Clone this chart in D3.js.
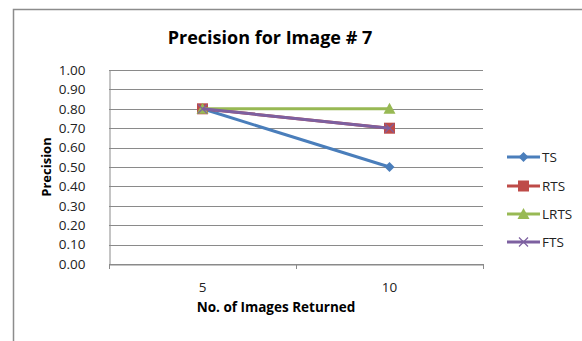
<!DOCTYPE html>
<html><head><meta charset="utf-8">
<script src="https://cdn.jsdelivr.net/npm/d3@7"></script>
<style>body{margin:0;background:#fff}svg{display:block;font-family:"Open Sans",sans-serif}</style>
</head><body>
<script>
const categories = ["5", "10"];
const yTicks = [0, 0.1, 0.2, 0.3, 0.4, 0.5, 0.6, 0.7, 0.8, 0.9, 1.0];
const seriesNames = ["TS", "RTS", "LRTS", "FTS"];
const TS = [0.8, 0.5];
const RTS = [0.8, 0.7];
const LRTS = [0.8, 0.8];
const FTS = [0.8, 0.7];
const seriesValues = [TS, RTS, LRTS, FTS];
const colors = ["#4A7EBB", "#BE4B48", "#98B954", "#7D60A0"];

const W = 582, H = 341;
const svg = d3.select("body").append("svg").attr("width", W).attr("height", H);
svg.append("rect").attr("x", 13.5).attr("y", 9.5).attr("width", 700).attr("height", 400)
  .attr("fill", "#fff").attr("stroke", "#8c8c8c").attr("stroke-width", 1.5);

const L = 109, R = 483, T = 70, B = 264;
const x = d3.scaleBand().domain(categories).range([L, R]);
const y = d3.scaleLinear().domain([0, 1]).range([B, T]);

// marker shapes
function marker(g, si, color) {
  if (si === 0) {
    g.append("path").attr("d", "M0,-5L5,0L0,5L-5,0Z").attr("fill", color);
  } else if (si === 1) {
    g.append("rect").attr("x", -5.5).attr("y", -5.5).attr("width", 11).attr("height", 11).attr("fill", color);
  } else if (si === 2) {
    g.append("path").attr("d", "M0,-6L6,5L-6,5Z").attr("fill", color);
  } else {
    g.append("path").attr("d", "M-4.5,-4.5L4.5,4.5M-4.5,4.5L4.5,-4.5").attr("stroke", color).attr("stroke-width", 1.2);
  }
}

// gridlines
svg.append("g").selectAll("line").data(yTicks).join("line")
  .attr("x1", L).attr("x2", R).attr("y1", d => Math.round(y(d)) + 0.5).attr("y2", d => Math.round(y(d)) + 0.5)
  .attr("stroke", "#8a8a8a").attr("stroke-width", 1);

// y axis
const ya = svg.append("g").attr("transform", `translate(${L+0.5},0)`)
  .call(d3.axisLeft(y).tickValues(yTicks).tickFormat(d3.format(".2f")).tickSize(0).tickPadding(24));
ya.select(".domain").attr("stroke", "#8a8a8a");
ya.selectAll("text").attr("font-size", 13.5).attr("fill", "#222").attr("font-family", "Open Sans");

// x axis
const xa = svg.append("g").attr("transform", `translate(0,${B+0.5})`)
  .call(d3.axisBottom(x).tickSize(0).tickPadding(18));
xa.select(".domain").attr("stroke", "#8a8a8a");
xa.selectAll("text").attr("font-size", 13.5).attr("fill", "#222").attr("font-family", "Open Sans");
const bounds = [L, L + x.bandwidth(), R];
svg.append("g").selectAll("line").data(bounds).join("line")
  .attr("x1", d => Math.round(d) + 0.5).attr("x2", d => Math.round(d) + 0.5)
  .attr("y1", B).attr("y2", B + 5).attr("stroke", "#8a8a8a");

const cx = d => x(d) + x.bandwidth() / 2;
const line = d3.line().x((d, i) => cx(categories[i])).y(d => y(d));

seriesValues.forEach((vals, si) => {
  const g = svg.append("g");
  g.append("path").datum(vals).attr("d", line).attr("fill", "none")
    .attr("stroke", colors[si]).attr("stroke-width", 3);
  vals.forEach((d, i) => {
    const mg = g.append("g").attr("transform", `translate(${cx(categories[i])},${y(d)})`);
    marker(mg, si, colors[si]);
  });
});

// legend
const ly = [157, 186, 214, 242];
seriesNames.forEach((n, si) => {
  const g = svg.append("g").attr("transform", `translate(0,${ly[si]})`);
  g.append("line").attr("x1", 507).attr("x2", 540).attr("stroke", colors[si]).attr("stroke-width", 3);
  marker(g.append("g").attr("transform", "translate(523.5,0)"), si, colors[si]);
  g.append("text").attr("x", 542).attr("dy", "0.35em").attr("font-size", 13.5).attr("fill", "#222").text(n);
});

// titles
svg.append("text").attr("x", 270).attr("y", 38).attr("dy", "0.35em").attr("text-anchor", "middle")
  .attr("font-size", 18).attr("font-weight", "bold").attr("fill", "#000").text("Precision for Image # 7");
svg.append("text").attr("x", 276).attr("y", 307).attr("dy", "0.35em").attr("text-anchor", "middle")
  .attr("font-size", 13.5).attr("font-weight", "bold").attr("fill", "#000").text("No. of Images Returned");
svg.append("text").attr("transform", "translate(46,167) rotate(-90)").attr("dy", "0.35em").attr("text-anchor", "middle")
  .attr("font-size", 13).attr("font-weight", "bold").attr("fill", "#000").text("Precision");
</script>
</body></html>
